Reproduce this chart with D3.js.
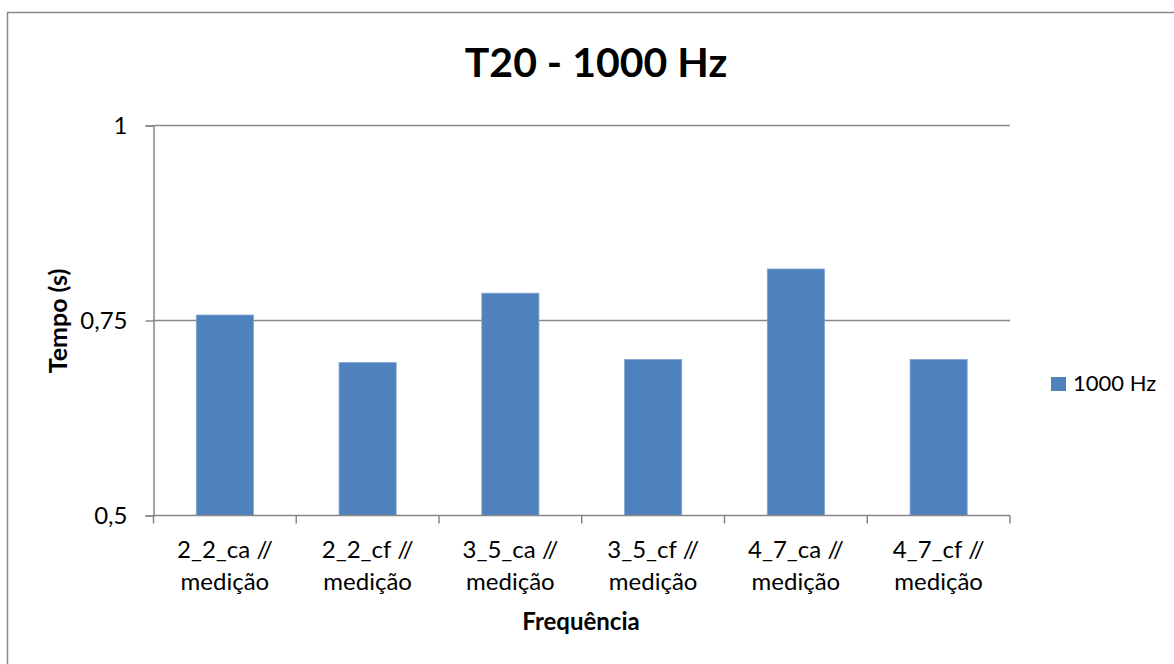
<!DOCTYPE html>
<html>
<head>
<meta charset="utf-8">
<script src="https://cdn.jsdelivr.net/npm/d3@7"></script>
<style>
  html, body { margin: 0; padding: 0; background: #fff; }
  svg { display: block; font-family: Lato, "Open Sans", sans-serif; }
</style>
</head>
<body>
<svg id="chart" width="1174" height="664"></svg>
<script>
// T20 reverberation times at 1000 Hz per configuration
const categories = [
  ["2_2_ca //", "medição"],
  ["2_2_cf //", "medição"],
  ["3_5_ca //", "medição"],
  ["3_5_cf //", "medição"],
  ["4_7_ca //", "medição"],
  ["4_7_cf //", "medição"]
];
const values = [0.757, 0.696, 0.785, 0.700, 0.816, 0.700];
const yTicks = [0.5, 0.75, 1];
const yTickLabels = ["0,5", "0,75", "1"];
const seriesName = "1000 Hz";
const title = "T20 - 1000 Hz";
const xTitle = "Frequência";
const yTitle = "Tempo (s)";

const svg = d3.select("#chart");
const gridColor = "#878787";
const barColor = "#4F81BD";

// Chart frame
svg.append("rect")
  .attr("x", 7.5).attr("y", 12.5)
  .attr("width", 1300).attr("height", 800)
  .attr("fill", "#fff")
  .attr("stroke", "#8a8a8a").attr("stroke-width", 1.5);

const plot = { left: 153.5, right: 1010, top: 125.5, bottom: 515.5 };

const x = d3.scaleBand()
  .domain(d3.range(categories.length))
  .range([plot.left, plot.right])
  .paddingInner(0.6).paddingOuter(0.3);

const xBound = d3.scaleLinear()
  .domain([0, categories.length])
  .range([plot.left, plot.right]);

const y = d3.scaleLinear().domain([0.5, 1]).range([plot.bottom, plot.top]);

// Horizontal gridlines
svg.append("g")
  .selectAll("line")
  .data(yTicks.slice(1))
  .join("line")
  .attr("x1", plot.left).attr("x2", plot.right)
  .attr("y1", d => y(d)).attr("y2", d => y(d))
  .attr("stroke", gridColor).attr("stroke-width", 1.5);

// Bars
svg.append("g")
  .selectAll("rect")
  .data(values)
  .join("rect")
  .attr("x", (d, i) => x(i))
  .attr("width", x.bandwidth())
  .attr("y", d => y(d))
  .attr("height", d => y(0.5) - y(d))
  .attr("fill", barColor)
  .attr("stroke", "#7ea3d2").attr("stroke-width", 0.8);

// Y axis
const yAxis = d3.axisLeft(y)
  .tickValues(yTicks)
  .tickFormat((d, i) => yTickLabels[i])
  .tickSize(8).tickPadding(18);
const gy = svg.append("g")
  .attr("transform", `translate(${plot.left},0)`)
  .call(yAxis);
gy.select(".domain").attr("stroke", gridColor).attr("stroke-width", 1.5);
gy.selectAll(".tick line").attr("stroke", gridColor).attr("stroke-width", 1.5);
gy.selectAll(".tick text")
  .attr("fill", "#000")
  .style("font-size", "24px")
  .style("font-family", "Lato, 'Open Sans', sans-serif");

// X axis line and category boundary ticks
const gx = svg.append("g");
gx.append("line")
  .attr("x1", plot.left).attr("x2", plot.right)
  .attr("y1", plot.bottom).attr("y2", plot.bottom)
  .attr("stroke", gridColor).attr("stroke-width", 1.5);
gx.selectAll("line.tk")
  .data(d3.range(categories.length + 1))
  .join("line")
  .attr("class", "tk")
  .attr("x1", d => xBound(d)).attr("x2", d => xBound(d))
  .attr("y1", plot.bottom).attr("y2", plot.bottom + 8)
  .attr("stroke", gridColor).attr("stroke-width", 1.5);

// Category labels (two lines)
const labels = gx.selectAll("text.cat")
  .data(categories)
  .join("text")
  .attr("class", "cat")
  .attr("text-anchor", "middle")
  .attr("fill", "#000")
  .style("font-size", "24px");
labels.selectAll("tspan")
  .data((d, i) => d.map(s => ({ s, i })))
  .join("tspan")
  .attr("x", d => x(d.i) + x.bandwidth() / 2)
  .attr("y", (d, j) => 558 + j * 32)
  .text(d => d.s);

// Title
svg.append("text")
  .attr("x", 596).attr("y", 77)
  .attr("text-anchor", "middle")
  .style("font-size", "41px").style("font-weight", "bold")
  .text(title);

// Axis titles
svg.append("text")
  .attr("x", 581).attr("y", 630)
  .attr("text-anchor", "middle")
  .style("font-size", "24px").style("font-weight", "bold")
  .text(xTitle);

svg.append("text")
  .attr("transform", "translate(67,321) rotate(-90)")
  .attr("text-anchor", "middle")
  .style("font-size", "25px").style("font-weight", "bold")
  .text(yTitle);

// Legend
const legend = svg.append("g").attr("transform", "translate(1051,377)");
legend.append("rect")
  .attr("width", 15).attr("height", 14)
  .attr("fill", barColor);
legend.append("text")
  .attr("x", 22).attr("y", 14)
  .style("font-size", "22px")
  .text(seriesName);
</script>
</body>
</html>
